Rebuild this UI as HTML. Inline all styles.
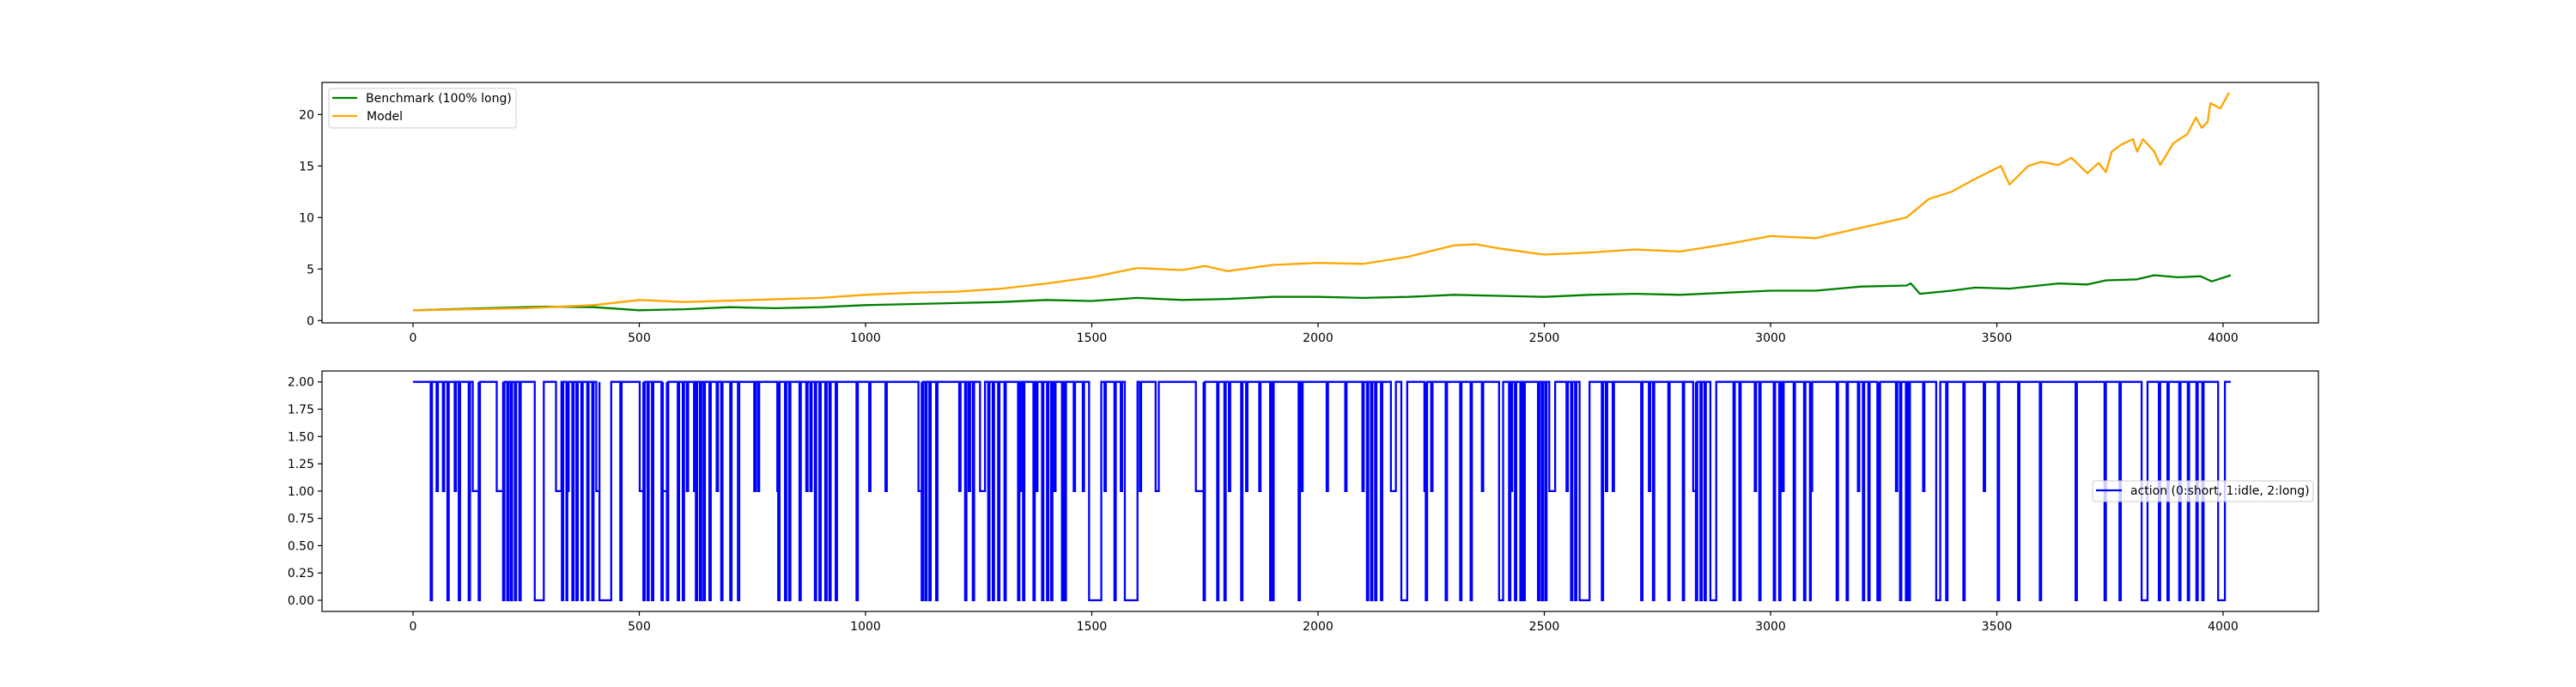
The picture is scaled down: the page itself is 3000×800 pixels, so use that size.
<!DOCTYPE html>
<html><head><meta charset="utf-8"><style>
body{margin:0;background:#fff}
svg{display:block;font-family:"DejaVu Sans","Liberation Sans",sans-serif}
</style></head><body>
<svg id="fig" width="3000" height="800" xmlns="http://www.w3.org/2000/svg">
<rect width="3000" height="800" fill="#fff"/>
<g id="topPanel"></g>
<g id="botPanel"></g>
</svg>
<script>
const benchT=[0,250,300,400,500,600,700,800,900,1000,1100,1200,1300,1400,1500,1600,1700,1800,1900,2000,2100,2200,2300,2400,2500,2600,2700,2800,2900,3000,3100,3200,3300,3310,3330,3400,3452,3528,3636,3700,3741,3810,3848,3900,3950,3975,4017];
const benchV=[1,1.3,1.35,1.3,1.0,1.1,1.3,1.2,1.3,1.5,1.6,1.7,1.8,2.0,1.9,2.2,2.0,2.1,2.3,2.3,2.2,2.3,2.5,2.4,2.3,2.5,2.6,2.5,2.7,2.9,2.9,3.3,3.4,3.6,2.6,2.9,3.2,3.1,3.6,3.5,3.9,4.0,4.4,4.2,4.3,3.8,4.4];
const modelT=[0,250,400,500,600,750,900,1000,1100,1200,1300,1400,1500,1600,1700,1750,1800,1900,2000,2100,2200,2300,2350,2400,2500,2600,2700,2800,2900,3000,3100,3200,3300,3350,3400,3452,3509,3528,3569,3598,3636,3665,3700,3725,3741,3754,3776,3801,3810,3823,3848,3861,3890,3921,3940,3953,3966,3972,3994,4013];
const modelV=[1,1.2,1.5,2.0,1.8,2.0,2.2,2.5,2.7,2.8,3.1,3.6,4.2,5.1,4.9,5.3,4.8,5.4,5.6,5.5,6.2,7.3,7.4,7.0,6.4,6.6,6.9,6.7,7.4,8.2,8.0,9.0,10.0,11.8,12.5,13.75,15.0,13.2,15.0,15.4,15.1,15.8,14.3,15.3,14.4,16.4,17.1,17.6,16.4,17.6,16.4,15.1,17.2,18.1,19.7,18.7,19.3,21.1,20.6,22.1];
const dipStart=[39,52,66,76,92,101,123,132,145,185,199,208,216,225,235,269,279,316,329,339,341,352,361,372,385,396,405,412,458,501,509,518,528,549,552,561,585,596,605,621,625,634,642,655,671,681,701,718,754,762,805,807,822,831,854,869,878,888,898,911,920,934,980,1008,1044,1117,1124,1132,1141,1156,1207,1220,1228,1237,1253,1271,1281,1293,1307,1337,1344,1348,1371,1377,1390,1401,1410,1417,1434,1440,1460,1480,1494,1528,1550,1564,1573,1606,1641,1730,1747,1777,1793,1803,1830,1841,1870,1894,1899,1957,1963,2019,2060,2098,2108,2117,2126,2139,2161,2184,2235,2238,2250,2282,2314,2337,2362,2400,2422,2426,2435,2447,2454,2486,2494,2502,2511,2549,2559,2568,2578,2627,2636,2651,2714,2731,2740,2774,2806,2829,2835,2845,2854,2867,2918,2931,2965,2975,3007,3019,3026,3051,3074,3087,3089,3146,3168,3193,3204,3216,3236,3239,3277,3286,3299,3305,3337,3366,3388,3426,3471,3502,3547,3595,3674,3738,3771,3820,3858,3877,3903,3922,3941,3954,3989];
const dipEnd=[42,55,69,79,95,104,126,145,148,199,202,211,219,228,238,289,299,328,332,341,344,355,364,375,388,399,412,438,461,509,512,521,531,552,561,564,588,599,608,624,628,637,645,658,674,684,704,721,757,765,807,810,825,834,857,872,881,891,901,914,923,937,983,1011,1047,1124,1127,1135,1144,1159,1210,1223,1231,1240,1264,1274,1284,1296,1310,1340,1347,1351,1374,1380,1393,1404,1413,1420,1437,1443,1463,1483,1521,1531,1553,1567,1601,1609,1648,1747,1750,1780,1796,1806,1833,1844,1873,1897,1902,1960,1966,2022,2063,2101,2111,2120,2129,2142,2172,2197,2238,2241,2253,2285,2317,2340,2365,2409,2425,2429,2438,2450,2457,2489,2497,2505,2524,2552,2562,2571,2600,2630,2639,2654,2717,2734,2743,2777,2809,2835,2838,2848,2857,2880,2921,2934,2968,2978,3010,3022,3029,3054,3077,3089,3092,3149,3171,3196,3207,3219,3239,3242,3280,3289,3302,3308,3340,3375,3391,3429,3474,3505,3550,3598,3677,3741,3774,3833,3861,3880,3906,3925,3944,3957,4004];
const dipVal=[0,1,1,0,1,0,0,1,0,1,0,0,0,0,0,0,1,1,0,0,1,0,0,0,0,0,1,0,0,1,0,0,0,0,1,0,0,0,1,1,0,0,0,0,1,0,0,0,1,1,1,0,0,0,0,1,1,0,0,0,0,0,0,1,1,1,0,0,0,0,1,0,1,0,1,0,0,0,0,0,1,0,0,1,0,0,0,1,0,0,1,1,0,1,0,1,0,1,1,1,0,0,0,1,0,1,1,0,0,0,1,1,1,1,0,0,0,0,1,0,1,0,1,0,0,0,1,0,0,1,0,0,0,0,0,0,1,1,0,0,0,0,1,1,0,1,0,0,0,1,0,0,0,0,0,0,1,0,0,0,1,0,0,0,1,0,0,1,0,0,0,0,1,0,0,0,1,0,0,0,1,0,0,0,0,0,0,0,0,0,0,0,0,0,0];
const xTicks=[0,500,1000,1500,2000,2500,3000,3500,4000];
const yTicksTop=[0,5,10,15,20];
const yTicksBot=[0,0.25,0.5,0.75,1,1.25,1.5,1.75,2];
const actionN=4017;

const NS="http://www.w3.org/2000/svg";
function mk(p,tag,at){const e=document.createElementNS(NS,tag);for(const k in at)e.setAttribute(k,at[k]);p.appendChild(e);return e;}
const X=t=>481+t*0.527;
const Y1=v=>373.3-v*12;
const Y2=v=>699-v*127.15;
const L=375,R=2700;

function axes(g,yTop,yBottom,ticks,Yf,fmt){
  for(const t of xTicks){
    const l=mk(g,'line',{x1:X(t),x2:X(t),y1:yBottom,y2:yBottom+5,stroke:'#000','stroke-width':1.2});
    
    
    const tx=mk(g,'text',{x:X(t),y:yBottom+22,'font-size':14,'text-anchor':'middle'});tx.textContent=t;
    
    
  }
  for(const v of ticks){
    const l=mk(g,'line',{x1:L-5,x2:L,y1:Yf(v),y2:Yf(v),stroke:'#000','stroke-width':1.2});
    
    
    const tx=mk(g,'text',{x:L-9,y:Yf(v)+5,'font-size':14,'text-anchor':'end'});tx.textContent=fmt(v);
    
    
  }
}
function frame(g,yTop,yBottom){
  const r=mk(g,'rect',{x:L,y:yTop,width:R-L,height:yBottom-yTop,fill:'none',stroke:'#000','stroke-width':1.2});
  
  
}
const topG=document.getElementById('topPanel'),botG=document.getElementById('botPanel');
axes(topG,96,376,yTicksTop,Y1,v=>String(v));
const pb=mk(topG,'polyline',{points:benchT.map((t,i)=>X(t)+','+Y1(benchV[i])).join(' '),fill:'none',stroke:'green','stroke-width':2.3,'stroke-linejoin':'round'});


const pm=mk(topG,'polyline',{points:modelT.map((t,i)=>X(t)+','+Y1(modelV[i])).join(' '),fill:'none',stroke:'orange','stroke-width':2.3,'stroke-linejoin':'round'});


frame(topG,96,376);
const lg=mk(topG,'g',{});


mk(lg,'rect',{x:383,y:103,width:218,height:46,rx:3,fill:'#fff','fill-opacity':0.8,stroke:'#ccc'});
mk(lg,'line',{x1:387,x2:416,y1:114,y2:114,stroke:'green','stroke-width':2.3});
const t1=mk(lg,'text',{x:426,y:119,'font-size':14});t1.textContent='Benchmark (100% long)';


mk(lg,'line',{x1:387,x2:416,y1:135,y2:135,stroke:'orange','stroke-width':2.3});
const t2=mk(lg,'text',{x:427,y:140,'font-size':14});t2.textContent='Model';



axes(botG,432,712,yTicksBot,Y2,v=>v.toFixed(2));
const pts=[[0,2]];let cur=0;
for(let i=0;i<dipStart.length;i++){
  const s=dipStart[i],e=Math.min(dipEnd[i],actionN),v=dipVal[i];
  if(s<cur)continue;
  pts.push([s,2],[s,v],[e,v],[e,2]);cur=e;
}
pts.push([actionN,2]);
const pa=mk(botG,'polyline',{points:pts.map(p=>X(p[0])+','+Y2(p[1])).join(' '),fill:'none',stroke:'blue','stroke-width':2.3});


frame(botG,432,712);
const lb=mk(botG,'g',{});


mk(lb,'rect',{x:2437,y:560,width:257,height:24,rx:3,fill:'#fff','fill-opacity':0.8,stroke:'#ccc'});
mk(lb,'line',{x1:2441,x2:2471,y1:571,y2:571,stroke:'blue','stroke-width':2.3});
const t3=mk(lb,'text',{x:2481,y:576,'font-size':14});t3.textContent='action (0:short, 1:idle, 2:long)';


</script>
</body></html>
